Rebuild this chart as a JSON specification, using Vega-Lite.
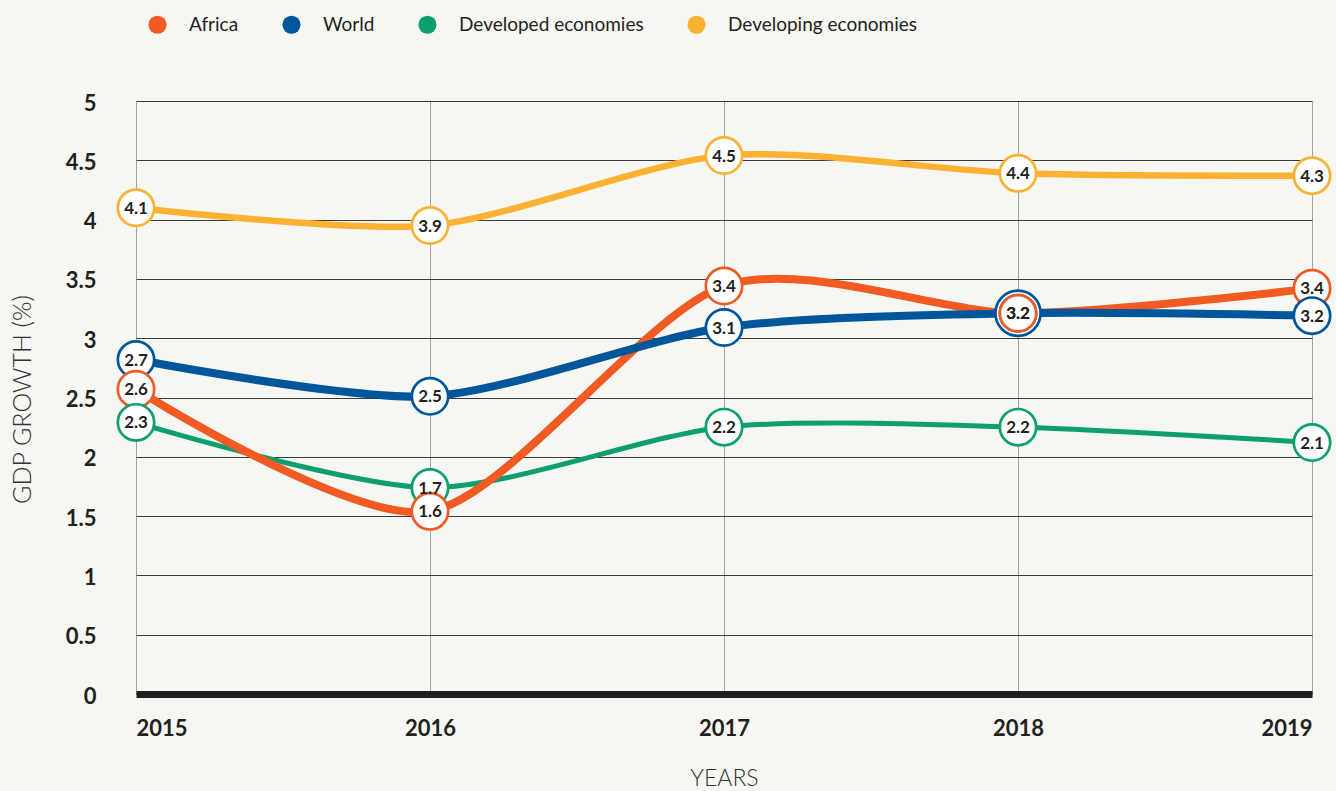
{
  "$schema": "https://vega.github.io/schema/vega-lite/v6.json",
  "autosize": "none",
  "width": 1176,
  "height": 593,
  "padding": {"left": 136, "top": 101, "right": 24, "bottom": 97},
  "background": "#f6f7f2",
  "config": {
    "view": {"stroke": null},
    "font": "Lato",
    "legend": {"padding": 0}
  },
  "data": {
    "values": [
      {"year": 2015, "series": "Developing economies", "value": 4.1, "label": "4.1"},
      {"year": 2015, "series": "World", "value": 2.82, "label": "2.7"},
      {"year": 2015, "series": "Africa", "value": 2.57, "label": "2.6"},
      {"year": 2015, "series": "Developed economies", "value": 2.29, "label": "2.3"},
      {"year": 2016, "series": "Developing economies", "value": 3.95, "label": "3.9"},
      {"year": 2016, "series": "World", "value": 2.51, "label": "2.5"},
      {"year": 2016, "series": "Developed economies", "value": 1.74, "label": "1.7"},
      {"year": 2016, "series": "Africa", "value": 1.54, "label": "1.6"},
      {"year": 2017, "series": "Developing economies", "value": 4.54, "label": "4.5"},
      {"year": 2017, "series": "Developed economies", "value": 2.25, "label": "2.2"},
      {"year": 2017, "series": "Africa", "value": 3.44, "label": "3.4"},
      {"year": 2017, "series": "World", "value": 3.09, "label": "3.1"},
      {"year": 2018, "series": "Developing economies", "value": 4.39, "label": "4.4"},
      {"year": 2018, "series": "Developed economies", "value": 2.25, "label": "2.2"},
      {"year": 2018, "series": "World", "value": 3.21, "label": "3.2"},
      {"year": 2018, "series": "Africa", "value": 3.21, "label": "3.2"},
      {"year": 2019, "series": "Developing economies", "value": 4.37, "label": "4.3"},
      {"year": 2019, "series": "Developed economies", "value": 2.12, "label": "2.1"},
      {"year": 2019, "series": "Africa", "value": 3.42, "label": "3.4"},
      {"year": 2019, "series": "World", "value": 3.19, "label": "3.2"}
    ]
  },
  "encoding": {
    "x": {
      "field": "year",
      "type": "quantitative",
      "scale": {"domain": [2015, 2019], "nice": false, "zero": false},
      "axis": {
        "values": [2015, 2016, 2017, 2018, 2019],
        "format": "d",
        "labelFont": "Lato",
        "labelFontWeight": "bold",
        "labelFontSize": 22,
        "labelColor": "#231f20",
        "labelPadding": 24,
        "labelFlush": true,
        "ticks": false,
        "domain": true,
        "domainWidth": 7,
        "domainColor": "#231f20",
        "grid": true,
        "gridColor": "#a3a3a3",
        "gridWidth": 1,
        "title": "YEARS",
        "titleFont": "Lato",
        "titleFontWeight": 300,
        "titleFontSize": 23,
        "titleColor": "#333333",
        "titleY": 84,
        "titleBaseline": "middle"
      }
    },
    "y": {
      "field": "value",
      "type": "quantitative",
      "scale": {"domain": [0, 5], "nice": false},
      "axis": {
        "values": [0, 0.5, 1, 1.5, 2, 2.5, 3, 3.5, 4, 4.5, 5],
        "format": "~g",
        "labelFont": "Lato",
        "labelFontWeight": "bold",
        "labelFontSize": 22,
        "labelColor": "#231f20",
        "labelPadding": 40,
        "labelOffset": 2,
        "ticks": false,
        "domain": false,
        "grid": true,
        "gridColor": "#3a3a3a",
        "gridWidth": 1.2,
        "title": "GDP GROWTH (%)",
        "titleFont": "Lato",
        "titleFontWeight": 300,
        "titleFontSize": 25,
        "titleColor": "#333333",
        "titleX": -114,
        "titleY": 298,
        "titleAngle": 270,
        "titleAlign": "center",
        "titleBaseline": "middle"
      }
    }
  },
  "layer": [
    {
      "mark": {"type": "point", "shape": "circle", "filled": true, "size": 0, "opacity": 1},
      "encoding": {
        "color": {
          "field": "series",
          "type": "nominal",
          "scale": {
            "domain": ["Africa", "World", "Developed economies", "Developing economies"],
            "range": ["#f15a22", "#00569b", "#0e9f6e", "#fbb232"]
          },
          "legend": {
            "orient": "none",
            "legendX": 12,
            "legendY": -86,
            "direction": "horizontal",
            "title": null,
            "symbolType": "circle",
            "symbolSize": 330,
            "symbolStrokeWidth": 0,
            "symbolOpacity": 1,
            "labelFont": "Lato",
            "labelFontSize": 19,
            "labelColor": "#231f20",
            "labelLimit": 400,
            "labelOffset": 22,
            "columnPadding": 43
          }
        }
      }
    },
    {
      "transform": [{"filter": "datum.series === 'Developing economies'"}],
      "mark": {"type": "line", "interpolate": "cardinal", "tension": 0.2, "color": "#fbb232", "strokeWidth": 6.5}
    },
    {
      "transform": [{"filter": "datum.series === 'Developed economies'"}],
      "mark": {"type": "line", "interpolate": "cardinal", "tension": 0.2, "color": "#0e9f6e", "strokeWidth": 5}
    },
    {
      "transform": [{"filter": "datum.series === 'Africa'"}],
      "mark": {"type": "line", "interpolate": "cardinal", "tension": 0.2, "color": "#f15a22", "strokeWidth": 8}
    },
    {
      "transform": [{"filter": "datum.series === 'World'"}],
      "mark": {"type": "line", "interpolate": "cardinal", "tension": 0.2, "color": "#00569b", "strokeWidth": 8}
    },
    {
      "transform": [{"filter": "datum.series === 'World' && datum.year === 2018"}],
      "mark": {"type": "point", "shape": "circle", "filled": true, "fill": "white", "stroke": "#00569b", "strokeWidth": 2.7, "size": 2040, "opacity": 1}
    },
    {
      "mark": {"type": "point", "shape": "circle", "filled": true, "fill": "white", "strokeWidth": 2.7, "size": 1320, "opacity": 1},
      "encoding": {
        "stroke": {
          "field": "series",
          "type": "nominal",
          "scale": {
            "domain": ["Africa", "World", "Developed economies", "Developing economies"],
            "range": ["#f15a22", "#00569b", "#0e9f6e", "#fbb232"]
          },
          "legend": null
        }
      }
    },
    {
      "mark": {"type": "text", "font": "Lato", "fontWeight": "bold", "fontSize": 17, "color": "#231f20", "baseline": "middle", "align": "center", "dy": 1},
      "encoding": {"text": {"field": "label", "type": "nominal"}}
    }
  ]
}
